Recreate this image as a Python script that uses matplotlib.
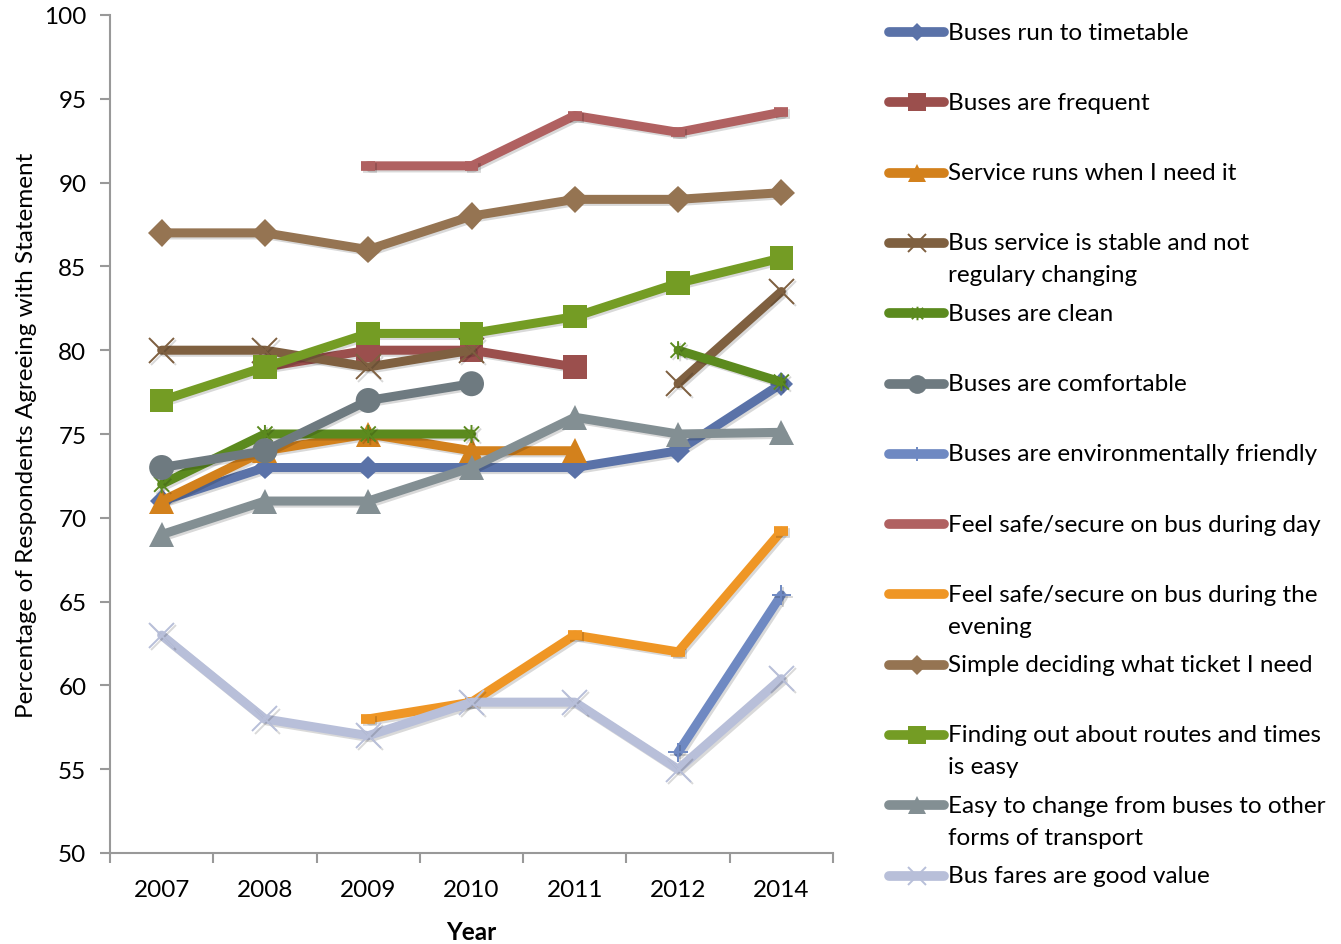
import numpy as np
import matplotlib
matplotlib.use("Agg")
import matplotlib.pyplot as plt
import matplotlib.patheffects as pe
from matplotlib.lines import Line2D
from matplotlib.path import Path

plt.rcParams["font.family"] = ["Lato", "DejaVu Sans"]

NA = np.nan
years = ["2007", "2008", "2009", "2010", "2011", "2012", "2014"]

timetable   = [71, 73, 73, 73, 73, 74, 78]
frequent    = [NA, 79, 80, 80, 79, NA, NA]
service     = [71, 74, 75, 74, 74, NA, NA]
stable      = [80, 80, 79, 80, NA, 78, 83.5]
clean       = [72, 75, 75, 75, NA, 80, 78.1]
comfortable = [73, 74, 77, 78, NA, NA, NA]
env         = [NA, NA, NA, NA, NA, 56, 65.4]
safe_day    = [NA, NA, 91, 91, 94, 93, 94.2]
safe_eve    = [NA, NA, 58, 59, 63, 62, 69.2]
ticket      = [87, 87, 86, 88, 89, 89, 89.4]
finding     = [77, 79, 81, 81, 82, 84, 85.5]
change      = [69, 71, 71, 73, 76, 75, 75.1]
fares       = [63, 58, 57, 59, 59, 55, 60.4]

# asterisk marker: x plus vertical bar (Excel "star")
star = Path([(-1, -1), (1, 1), (-1, 1), (1, -1), (0, -1.2), (0, 1.2)],
            [Path.MOVETO, Path.LINETO, Path.MOVETO, Path.LINETO, Path.MOVETO, Path.LINETO])

# (label, values, color, marker, markersize, marker edge width, filled)
series = [
    ("Buses run to timetable", timetable, "#5a72a8", "D", 12, 0, True),
    ("Buses are frequent", frequent, "#9b4f4d", "s", 17, 0, True),
    ("Service runs when I need it", service, "#d3811c", "^", 18, 0, True),
    ("Bus service is stable and not\nregulary changing", stable, "#7f6040", "x", 18, 1.4, False),
    ("Buses are clean", clean, "#5b8a1e", star, 13, 1.4, False),
    ("Buses are comfortable", comfortable, "#6e7a80", "o", 18, 0, True),
    ("Buses are environmentally friendly", env, "#6f89c2", "+", 14, 1.4, False),
    ("Feel safe/secure on bus during day", safe_day, "#b06161", "_", 10, 7, False),
    ("Feel safe/secure on bus during the\nevening", safe_eve, "#ef9625", "_", 10, 7, False),
    ("Simple deciding what ticket I need", ticket, "#957452", "D", 14, 0, True),
    ("Finding out about routes and times\nis easy", finding, "#749c24", "s", 17, 0, True),
    ("Easy to change from buses to other\nforms of transport", change, "#838f93", "^", 18, 0, True),
    ("Bus fares are good value", fares, "#b8bfd9", "x", 18, 1.4, False),
]

W, H = 1341, 945
fig = plt.figure(figsize=(W / 100, H / 100), dpi=100)
ax = fig.add_axes([110 / W, 1 - 854 / H, 723 / W, 838 / H])

shadow = [pe.SimpleLineShadow(offset=(1.5, -1.5), alpha=0.15, shadow_color="k"), pe.Normal()]
x = np.arange(len(years))
for label, vals, color, marker, ms, mew, filled in series:
    ax.plot(x, vals, color=color, lw=6.5, solid_capstyle="round", solid_joinstyle="round",
            marker=marker, ms=ms, mew=mew, mec=color,
            mfc=color if filled else "none", path_effects=shadow)

ax.set_xlim(-0.5, len(years) - 0.5)
ax.set_ylim(50, 100)
ax.set_yticks(range(50, 101, 5))
ax.set_xticks(x)
ax.set_xticklabels(years)
ax.set_xticks(np.arange(-0.5, len(years)), minor=True)
ax.tick_params(axis="x", which="major", length=0, labelsize=17.5, pad=19)
ax.tick_params(axis="x", which="minor", length=7, width=1.5, color="#999999")
ax.tick_params(axis="y", length=7, width=1.5, color="#999999", labelsize=17.5, pad=10)
for s in ("top", "right"):
    ax.spines[s].set_visible(False)
for s in ("left", "bottom"):
    ax.spines[s].set_color("#999999")
    ax.spines[s].set_linewidth(1.5)
ax.set_xlabel("Year", fontsize=17.5, fontweight="bold", labelpad=14)
ax.set_ylabel("Percentage of Respondents Agreeing with Statement", fontsize=17.5, labelpad=5)

# legend drawn by hand, Excel-style fixed row height
row_h = 70.3
for i, (label, vals, color, marker, ms, mew, filled) in enumerate(series):
    yc = 1 - (33 + i * row_h) / H
    fig.add_artist(Line2D([889 / W, 944 / W], [yc, yc], transform=fig.transFigure,
                          color=color, lw=7, solid_capstyle="round"))
    if marker != "_":
        fig.add_artist(Line2D([917 / W], [yc], transform=fig.transFigure, color=color,
                              marker=marker, ms=ms * 0.75, mew=mew,
                              mec=color, mfc=color if filled else "none", lw=0))
    for k, line in enumerate(label.split("\n")):
        fig.text(948 / W, yc - k * 32 / H, line, fontsize=17.5, va="center", ha="left")

fig.savefig("out.png", dpi=100)
